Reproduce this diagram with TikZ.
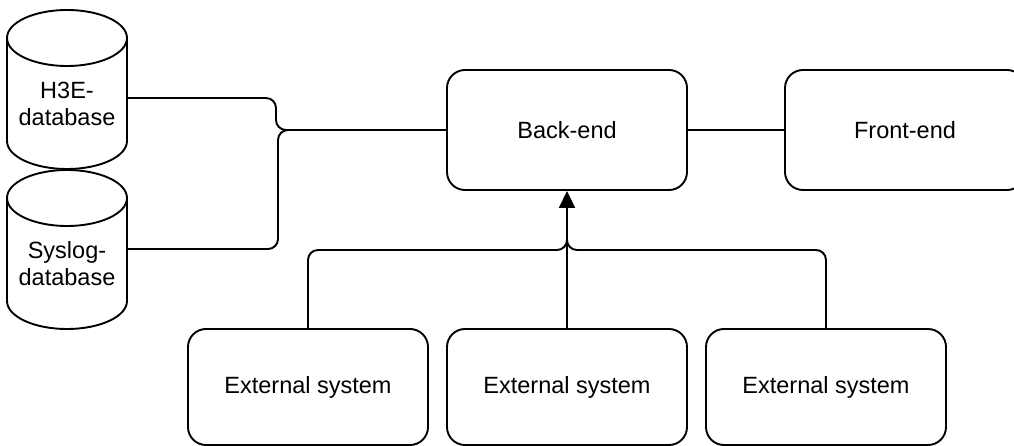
\documentclass[tikz,border=0pt]{standalone}
\usepackage{fontspec}
\setmainfont{Liberation Sans}
\usetikzlibrary{arrows.meta}

\tikzset{
  every node/.style={font=\fontsize{23.5}{27}\selectfont},
  box/.style={draw, line width=1.9pt, rounded corners=18pt, minimum width=240pt,
              inner sep=0pt, align=center},
  dbnode/.style={minimum width=120pt, minimum height=159pt, inner sep=0pt},
  dblabel/.style={align=center, inner sep=0pt},
  outline/.style={line width=1.9pt},
  conn/.style={line width=1.9pt, rounded corners=10pt},
  arrowconn/.style={line width=1.9pt, -{Triangle[length=17pt,width=16pt]}}
}

\begin{document}
\begin{tikzpicture}[x=1pt, y=1pt]
  \useasboundingbox (0,0) rectangle (1014,-446);

  % databases
  \node[dbnode] (h3e) at (67,-89.5) {};
  \node[dbnode] (sys) at (67,-249.5) {};
  \foreach \top in {10,170}{
    \draw[outline] (67,-\top-28) ellipse [x radius=60, y radius=28];
    \draw[outline] (7,-\top-28) -- (7,-\top-131)
      arc[start angle=180, end angle=360, x radius=60, y radius=28]
      -- (127,-\top-28);
  }
  \node[dblabel] at (67,-104) {H3E-\\database};
  \node[dblabel] at (67,-264) {Syslog-\\database};

  % application boxes
  \node[box, minimum height=120pt] (be) at (567,-130) {Back-end};
  \node[box, minimum height=120pt] (fe) at (905,-130) {Front-end};

  % external systems
  \node[box, minimum height=116pt] (ex1) at (308,-387) {External system};
  \node[box, minimum height=116pt] (ex2) at (567,-387) {External system};
  \node[box, minimum height=116pt] (ex3) at (826,-387) {External system};

  % junction points
  \coordinate (jh) at (276,-130);
  \coordinate (js) at (278,-130);
  \coordinate (jb) at (567,-250);
  \coordinate (je) at ([yshift=-10pt]be.south);

  % database connectors
  \draw[conn] ([yshift=-8.5pt]h3e.east) -| (jh) -- (be.west);
  \draw[conn] ([yshift=0.5pt]sys.east) -| (js) -- (be.west);

  % back-end to front-end
  \draw[outline] (be.east) -- (fe.west);

  % external systems to back-end
  \draw[arrowconn] (ex2.north) -- (be.south);
  \draw[conn] (ex1.north) |- (jb) -- (je);
  \draw[conn] (ex3.north) |- (jb) -- (je);
\end{tikzpicture}
\end{document}
